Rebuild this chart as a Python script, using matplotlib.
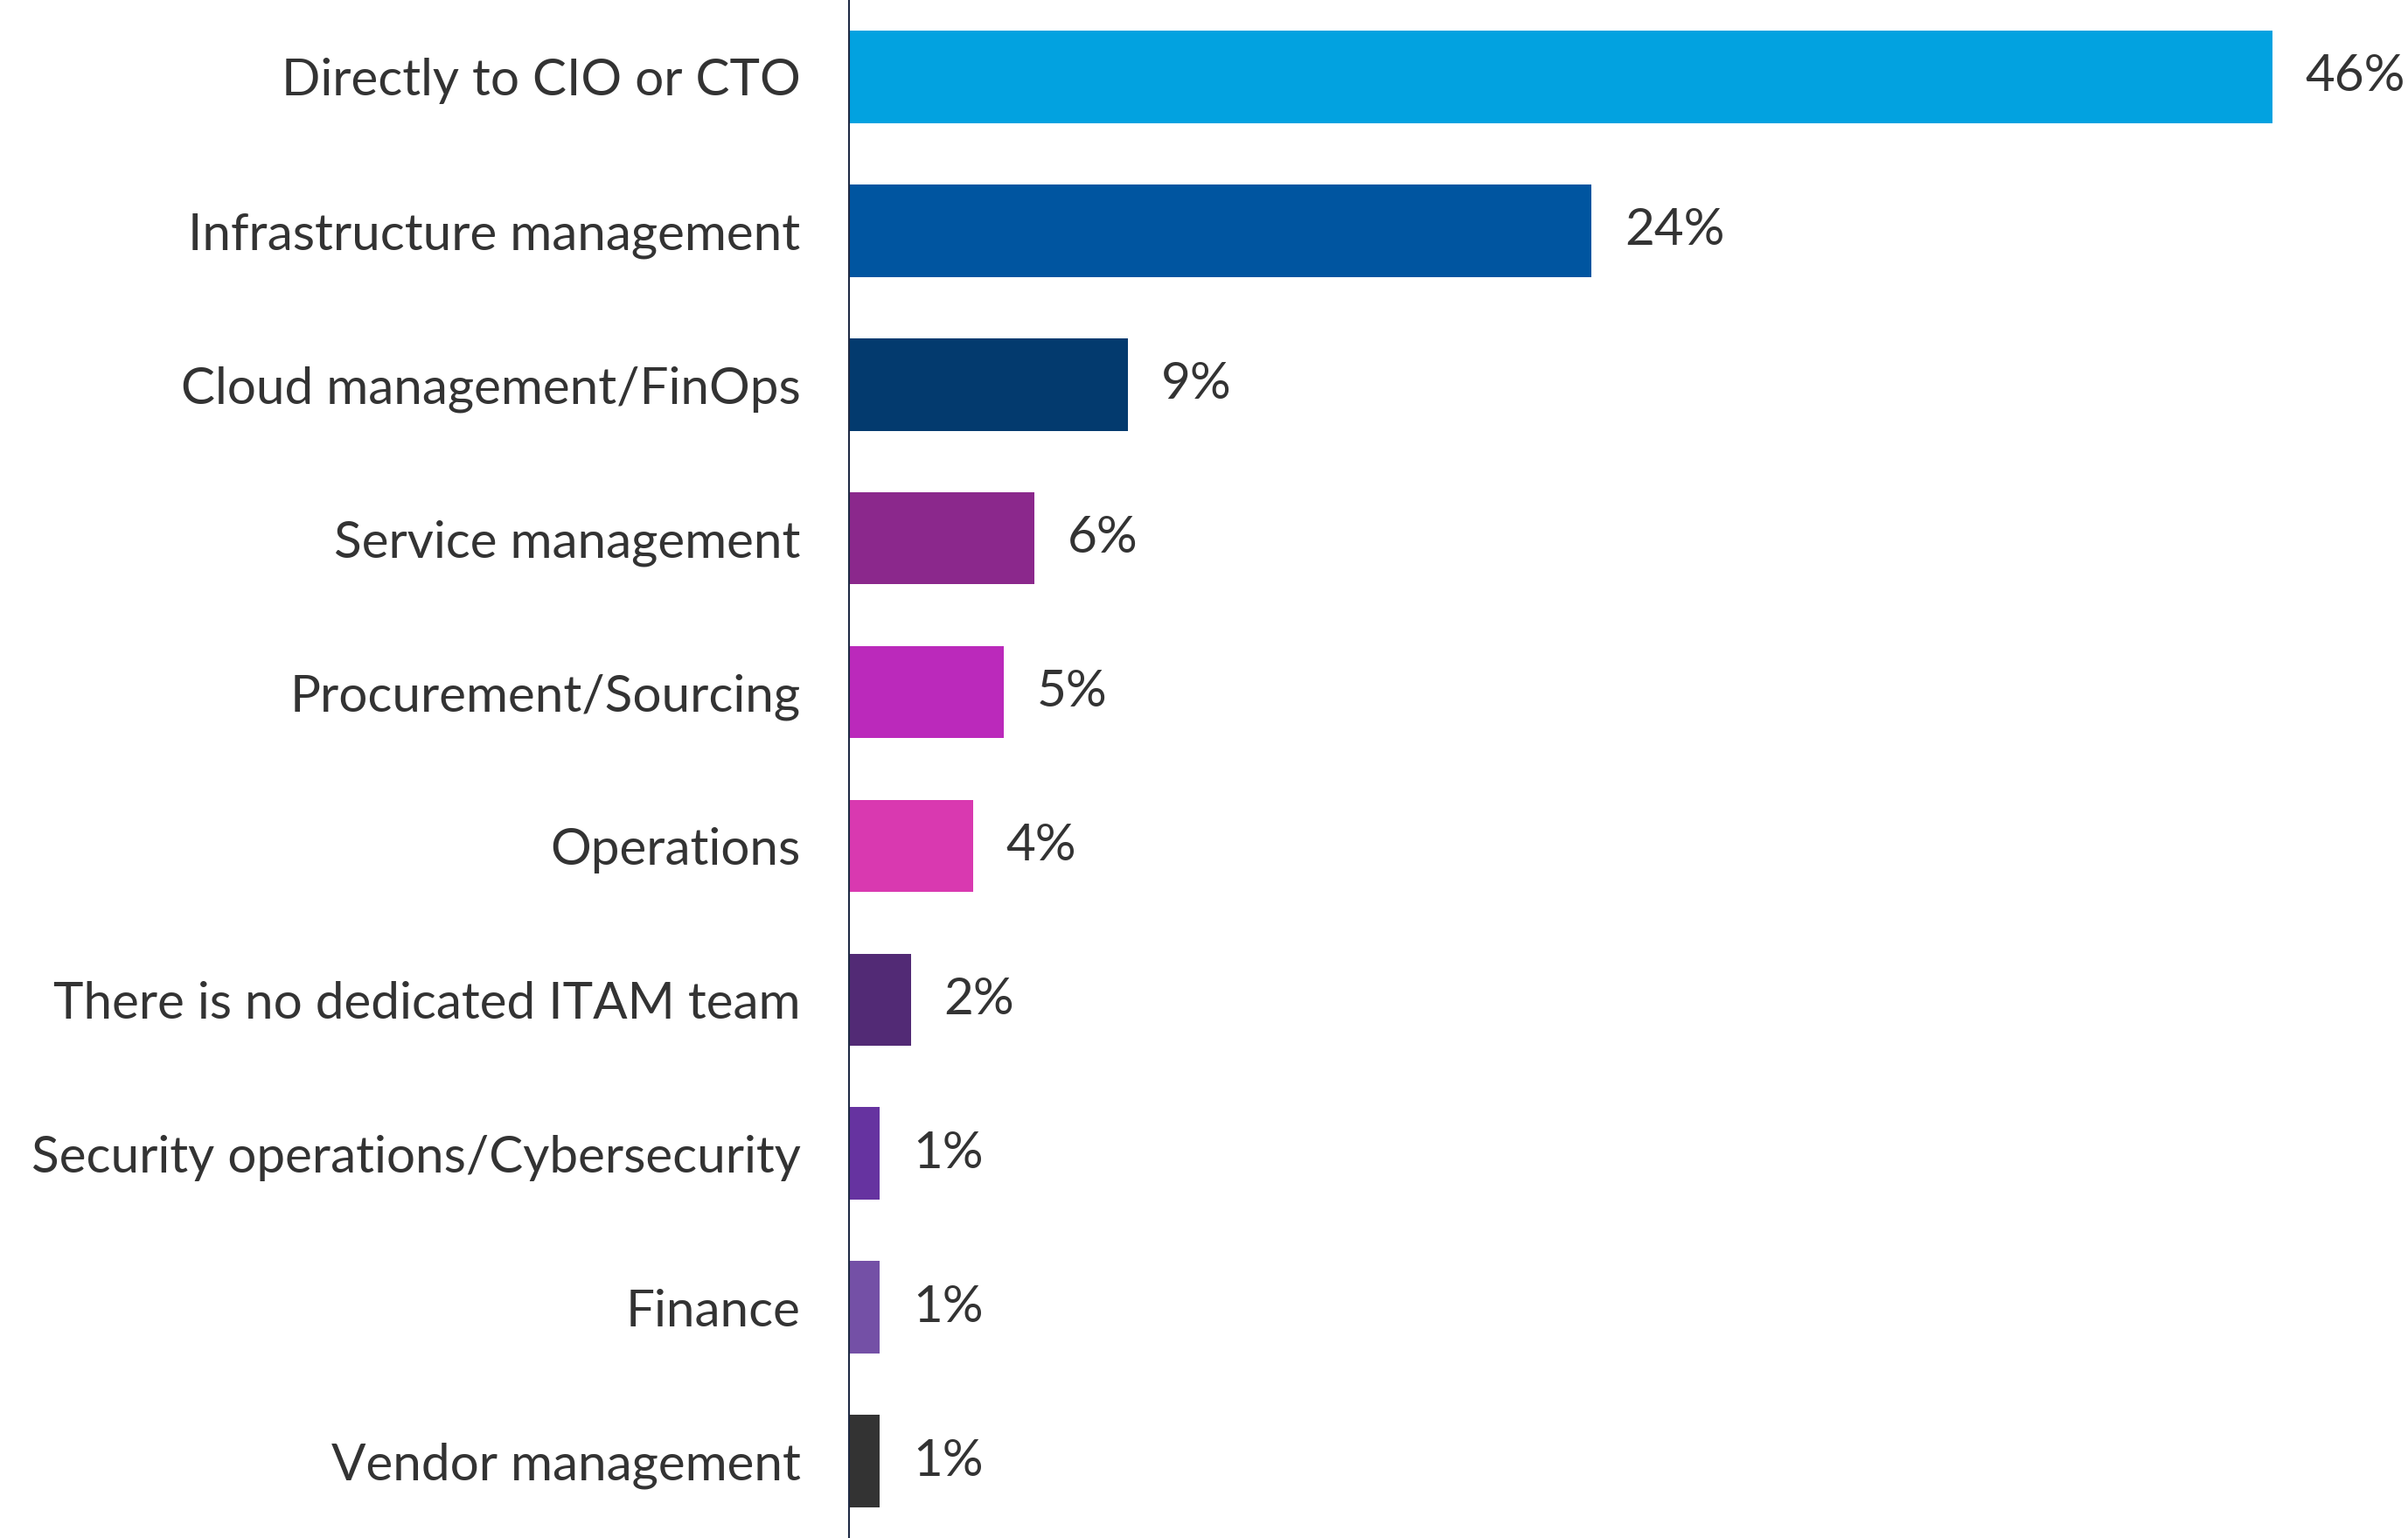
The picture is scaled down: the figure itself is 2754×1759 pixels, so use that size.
import matplotlib
matplotlib.use("Agg")
import matplotlib.pyplot as plt

categories = [
    "Directly to CIO or CTO",
    "Infrastructure management",
    "Cloud management/FinOps",
    "Service management",
    "Procurement/Sourcing",
    "Operations",
    "There is no dedicated ITAM team",
    "Security operations/Cybersecurity",
    "Finance",
    "Vendor management",
]
values = [46, 24, 9, 6, 5, 4, 2, 1, 1, 1]
colors = ["#02A2E0", "#0055A0", "#033A6E", "#8B288C", "#BB29BB",
          "#D939B0", "#522A75", "#6633A0", "#7450A6", "#333333"]

plt.rcParams["font.family"] = ["Lato", "DejaVu Sans"]
text_color = "#333333"

fig = plt.figure(figsize=(27.54, 17.59), dpi=100)
ax = fig.add_axes([0.3526, 0, 0.6474, 1])

y = list(range(len(categories)))
ax.barh(y, values, height=0.6, color=colors)

for yi, v in zip(y, values):
    ax.text(v + 1.07, yi, f"{v}%", va="center", ha="left",
            fontsize=42, color=text_color)

ax.set_xlim(0, 50.38)
ax.set_ylim(len(categories) - 0.5, -0.5)
ax.set_yticks(y)
ax.set_yticklabels(categories, fontsize=42, color=text_color)
ax.tick_params(axis="y", length=0, pad=40)
ax.set_xticks([])

for side in ["top", "right", "bottom"]:
    ax.spines[side].set_visible(False)
ax.spines["left"].set_color("#1F2A44")
ax.spines["left"].set_linewidth(1.5)

fig.savefig("out.png", dpi=100)
